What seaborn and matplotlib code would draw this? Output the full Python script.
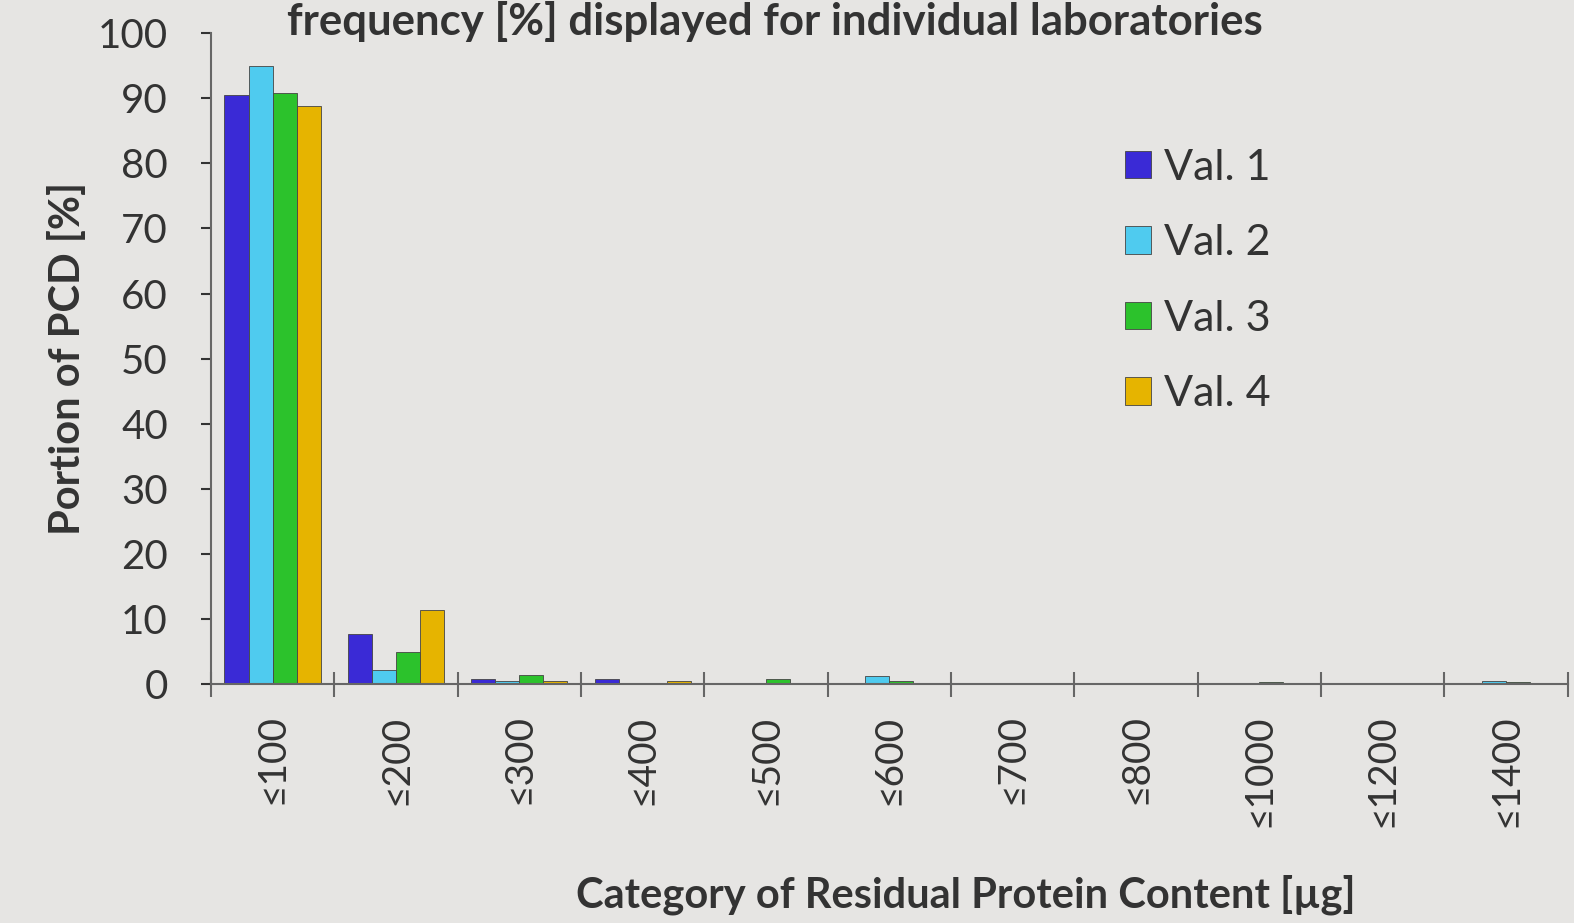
import pandas as pd
import matplotlib
matplotlib.use("Agg")
import matplotlib.pyplot as plt
import seaborn as sns

# values (portion of PCD in %)
categories = ["≤100", "≤200", "≤300", "≤400", "≤500", "≤600",
              "≤700", "≤800", "≤1000", "≤1200", "≤1400"]
val1 = [90.5, 7.7, 0.8, 0.8, 0.1, 0.2, 0.1, 0.1, 0.1, 0.1, 0.1]
val2 = [95.0, 2.1, 0.4, 0.2, 0.1, 1.2, 0.1, 0.2, 0.2, 0.1, 0.5]
val3 = [90.8, 4.9, 1.3, 0.2, 0.8, 0.5, 0.1, 0.2, 0.3, 0.2, 0.3]
val4 = [88.8, 11.4, 0.5, 0.5, 0.2, 0.2, 0.1, 0.1, 0.2, 0.1, 0.1]
series = ["Val. 1", "Val. 2", "Val. 3", "Val. 4"]
colors = ["#3a2ad6", "#4fcbef", "#2cc22c", "#e6b400"]

df = pd.DataFrame({
    "cat": categories * 4,
    "lab": [s for s in series for _ in categories],
    "pct": val1 + val2 + val3 + val4,
})

bg = "#e6e5e3"
txt = "#333333"
sns.set_theme(style="white")
plt.rcParams["font.family"] = ["Lato", "DejaVu Sans"]

fig = plt.figure(figsize=(15.74, 9.23), dpi=100, facecolor=bg)
ax = fig.add_axes([0.134, 0.259, 0.862, 0.705], facecolor=bg)

sns.barplot(data=df, x="cat", y="pct", hue="lab", order=categories,
            hue_order=series, palette=colors, saturation=1, width=0.78,
            edgecolor="#444444", linewidth=0.6, ax=ax)

ax.set_xlim(-0.5, len(categories) - 0.5)
ax.set_ylim(0, 100)
ax.set_yticks(range(0, 101, 10))
ax.tick_params(axis="y", labelsize=29, colors=txt, length=7, width=1.5,
               direction="out", left=True, pad=24)
ax.set_xticks(range(len(categories)))
ax.set_xticklabels(categories, rotation=90)
ax.tick_params(axis="x", which="major", length=0, labelsize=28,
               labelcolor=txt, pad=22)
ax.set_xticks([i - 0.5 for i in range(len(categories) + 1)], minor=True)
ax.tick_params(axis="x", which="minor", length=18, width=1.5,
               direction="inout", color="#666666", bottom=True)

for side in ["top", "right"]:
    ax.spines[side].set_visible(False)
for side in ["left", "bottom"]:
    ax.spines[side].set_color("#666666")
    ax.spines[side].set_linewidth(1.5)

ax.set_xlabel("Category of Residual Protein Content [µg]", fontsize=30,
              fontweight="bold", color=txt)
ax.xaxis.set_label_coords(0.556, -0.293)
ax.set_ylabel("Portion of PCD [%]", fontsize=30, fontweight="bold",
              color=txt, labelpad=8)

ax.legend(loc="upper left", bbox_to_anchor=(0.645, 0.882), frameon=False,
          fontsize=31, labelspacing=0.87, handlelength=0.6,
          handleheight=0.6, handletextpad=0.3, labelcolor=txt)

fig.text(0.492, 0.999, "frequency [%] displayed for individual laboratories",
         ha="center", va="top", fontsize=31.5, fontweight="bold", color=txt)

fig.savefig("out.png", dpi=100, facecolor=bg)
